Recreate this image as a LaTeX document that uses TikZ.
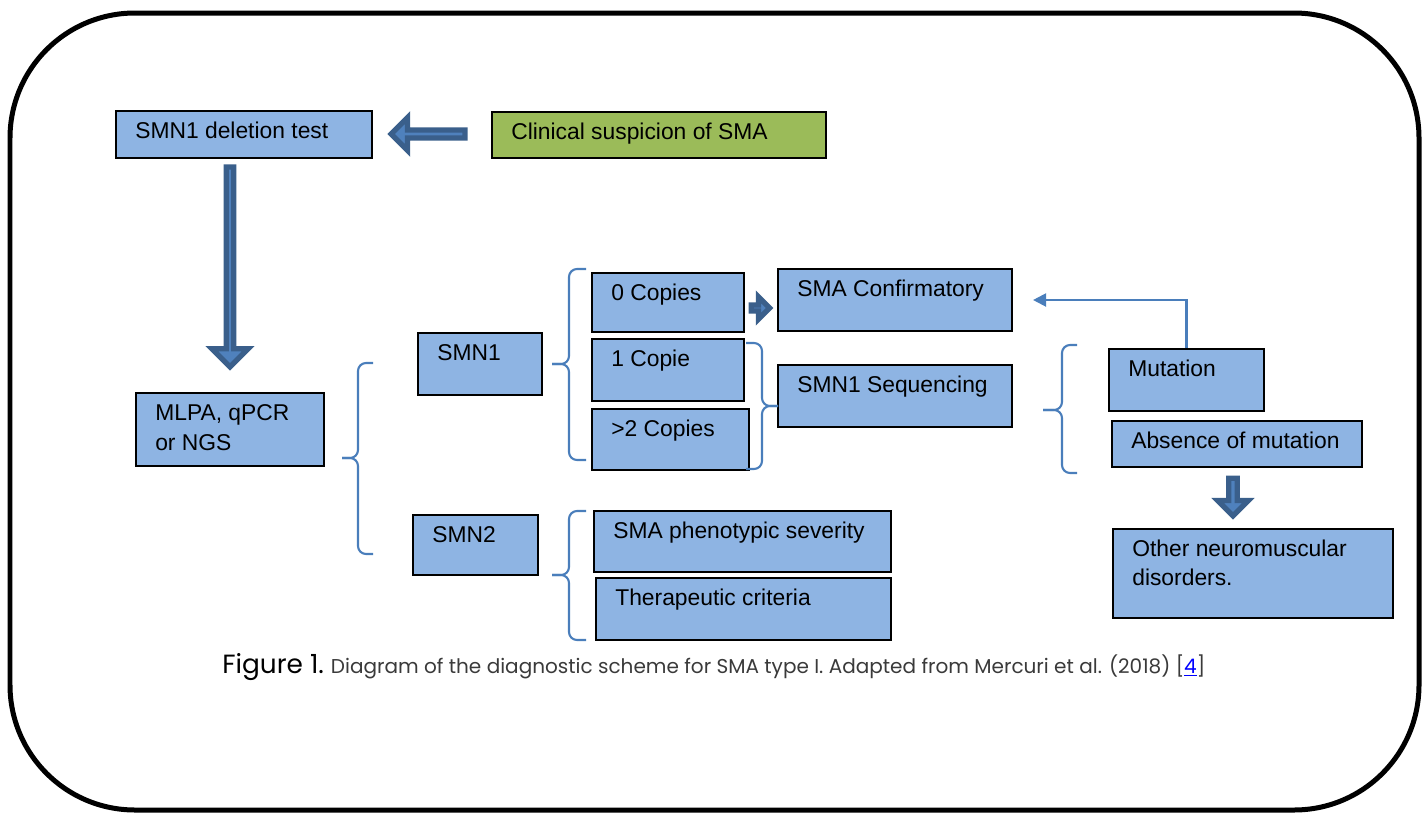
\documentclass[tikz,border=0pt]{standalone}
\usepackage{fontspec}
\setmainfont{Liberation Sans}
\newfontfamily\capfont{Poppins}
\usetikzlibrary{arrows.meta, positioning, calc, fit, shapes.arrows}
\definecolor{boxblue}{HTML}{8EB4E3}
\definecolor{sagegreen}{HTML}{9BBB59}
\definecolor{arrfill}{HTML}{4F81BD}
\definecolor{arrdark}{HTML}{3A5F8B}
\definecolor{brcblue}{HTML}{4A7EBB}
\definecolor{capgray}{HTML}{3A3A3A}
\definecolor{linkblue}{HTML}{0000FF}

\begin{document}
\begin{tikzpicture}[x=0.02cm, y=-0.02cm,
  box/.style={draw=black, line width=1.2pt, fill=#1, inner sep=0pt},
  box/.default=boxblue,
  txt/.style={anchor=north west, xshift=0.4cm, yshift=-0.24cm, inner sep=0pt,
    font=\fontsize{13}{16.5}\selectfont, align=left},
  blockarr/.style={single arrow, draw=arrdark, fill=arrfill, line width=3pt,
    inner sep=0pt, single arrow tip angle=90},
  brc/.style={draw=brcblue, line width=1.2pt, rounded corners=0.16cm},
  thinarr/.style={-{Triangle[length=0.26cm, width=0.26cm]}, draw=brcblue, line width=1.2pt},
]

% Frame
\useasboundingbox (0,0) rectangle (1427,815);
\draw[line width=0.1cm, rounded corners=2.5cm] (10,13) rectangle (1419,810);

% =============================================
% Top row
% =============================================
\node[box, fit={(116,111) (372,158)},
  label={[txt]north west:SMN1 deletion test}] (del) {};
\node[box=sagegreen, fit={(492,112) (826,158)},
  label={[txt]north west:Clinical suspicion of SMA}] (clin) {};

% =============================================
% Methods and genes
% =============================================
\node[box, fit={(136,393) (324,466)},
  label={[txt, font=\fontsize{13}{17}\selectfont]north west:{MLPA, qPCR\\or NGS}}] (mlpa) {};
\node[box, fit={(418,333) (542,395)},
  label={[txt]north west:SMN1}] (smn1) {};
\node[box, fit={(413,515) (538,575)},
  label={[txt]north west:SMN2}] (smn2) {};

% =============================================
% SMN1 copy number
% =============================================
\node[box, fit={(592,273) (744,332)},
  label={[txt]north west:0 Copies}] (copy0) {};
\node[box, fit={(592,339) (744,401)},
  label={[txt]north west:1 Copie}] (copy1) {};
\node[box, fit={(592,409) (749,470)},
  label={[txt]north west:>2 Copies}] (copy2) {};
\node[box, fit={(778,269) (1012,331)},
  label={[txt]north west:SMA Confirmatory}] (conf) {};
\node[box, fit={(778,365) (1012,427)},
  label={[txt]north west:SMN1 Sequencing}] (seq) {};

% =============================================
% Sequencing results
% =============================================
\node[box, fit={(1109,349) (1264,411)},
  label={[txt]north west:Mutation}] (mut) {};
\node[box, fit={(1112,421) (1362,467)},
  label={[txt]north west:Absence of mutation}] (nomut) {};
\node[box, fit={(1113,529) (1393,618)},
  label={[txt]north west:{Other neuromuscular\\disorders.}}] (other) {};

% =============================================
% SMN2
% =============================================
\node[box, fit={(594,511) (891,572)},
  label={[txt]north west:SMA phenotypic severity}] (pheno) {};
\node[box, fit={(596,578) (891,640)},
  label={[txt]north west:Therapeutic criteria}] (ther) {};

% =============================================
% Block arrows
% =============================================
\node[blockarr, minimum height=1.48cm, minimum width=0.66cm,
  single arrow head extend=0.17cm, rotate=180] (arr-clin) at (430,134) {};
\node[blockarr, minimum height=4cm, minimum width=0.73cm,
  single arrow head extend=0.2cm, rotate=-90] (arr-del) at (230,265) {};
\node[blockarr, minimum height=0.37cm, minimum width=0.45cm,
  single arrow head extend=0.15cm] (arr-copy0) at (759,308) {};
\node[blockarr, minimum height=0.75cm, minimum width=0.61cm,
  single arrow head extend=0.14cm, rotate=-90] (arr-nomut) at (1233,495) {};

% =============================================
% Braces
% =============================================
\draw[brc] (373,363) -- (358,363) -- (358,458) -- (342,458);
\draw[brc] (342,458) -- (358,458) -- (358,554) -- (373,554);

\draw[brc] (586,269) -- (569,269) -- (569,364) -- (552,364);
\draw[brc] (552,364) -- (569,364) -- (569,460) -- (586,460);

\draw[brc] (586,511) -- (569,511) -- (569,575) -- (552,575);
\draw[brc] (552,575) -- (569,575) -- (569,640) -- (586,640);

\draw[brc] (746,343) -- (762,343) -- (762,406) -- (778,406);
\draw[brc] (778,406) -- (762,406) -- (762,469) -- (746,469);

\draw[brc] (1077,345) -- (1062,345) -- (1062,410) -- (1043,410);
\draw[brc] (1043,410) -- (1062,410) -- (1062,473) -- (1077,473);

% Mutation -> confirmation
\draw[thinarr] (mut.north) |- ([xshift=0.4cm]conf.east);

% Caption
\node[anchor=base west, inner sep=0pt, font=\capfont] (caption) at (222,673)
  {{\fontsize{15}{17}\selectfont Figure 1.}\hspace{0.14cm}{\fontsize{11.4}{13}\selectfont
   \color{capgray}Diagram of the diagnostic scheme for SMA type I. Adapted from
   Mercuri et al. (2018) [\textcolor{linkblue}{\underline{4}}]}};

\end{tikzpicture}
\end{document}
